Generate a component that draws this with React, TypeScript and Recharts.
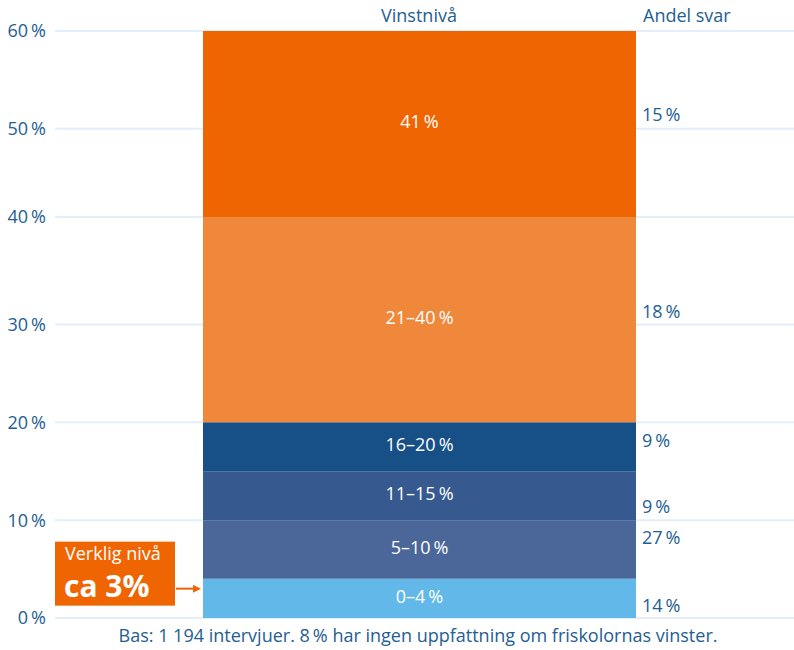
import React from 'react';
import { BarChart, Bar, XAxis, YAxis, CartesianGrid, LabelList, ReferenceLine } from 'recharts';

// profit level bands (bottom to top) and how big each band is on the scale
const bands = ['0–4\u2009%', '5–10\u2009%', '11–15\u2009%', '16–20\u2009%', '21–40\u2009%', '41\u2009%'];
const bandSizes = [4, 6, 5, 5, 21, 19];
// share of answers for each band
const answerShares = ['14\u2009%', '27\u2009%', '9\u2009%', '9\u2009%', '18\u2009%', '15\u2009%'];

const tickValues = [0, 10, 20, 30, 41, 50, 60];
const tickLabels = ['0\u2009%', '10\u2009%', '20\u2009%', '30\u2009%', '40\u2009%', '50\u2009%', '60\u2009%'];

const actualLevel = 3;

const bandColors = ['#62B9E9', '#4B6799', '#36598F', '#174F87', '#F0883B', '#EE6502'];
// where the share label sits inside each band (0 = top, 1 = bottom)
const shareLabelPos = [0.69, 0.29, 0.73, 0.38, 0.46, 0.45];

const BLUE = '#245E92';
const ORANGE = '#EE6502';
const FONT = '"Open Sans", sans-serif';

const row: { [k: string]: number | string } = { name: 'Vinstnivå' };
bands.forEach((b, i) => {
  row['b' + i] = bandSizes[i];
});
const data = [row];

const BandLabel = (idx: number) => (props: any) => {
  const { x, y, width, height } = props;
  return (
    <text
      x={x + width / 2}
      y={y + height / 2 - 2}
      dy="0.36em"
      fill="#fff"
      fontSize={18}
      fontFamily={FONT}
      textAnchor="middle"
    >
      {bands[idx]}
    </text>
  );
};

const ShareLabel = (idx: number) => (props: any) => {
  const { x, y, width, height } = props;
  return (
    <text
      x={x + width + 6}
      y={y + height * shareLabelPos[idx]}
      dy="0.36em"
      fill={BLUE}
      fontSize={18}
      fontFamily={FONT}
      textAnchor="start"
    >
      {answerShares[idx]}
    </text>
  );
};

const ActualLevel = (props: any) => {
  const { x, y } = props.viewBox;
  return (
    <g>
      <rect x={x} y={y - 47} width={120} height={64} fill={ORANGE} />
      <text x={x + 10} y={y - 29} fill="#fff" fontSize={18} fontFamily={FONT}>
        Verklig nivå
      </text>
      <text x={x + 9} y={y + 8} fill="#fff" fontSize={30} fontWeight={700} fontFamily={FONT}>
        ca {actualLevel}%
      </text>
      <line x1={x + 121} y1={y} x2={x + 140} y2={y} stroke={ORANGE} strokeWidth={2} />
      <path d={`M${x + 146},${y} L${x + 138},${y - 4} L${x + 138},${y + 4} Z`} fill={ORANGE} />
    </g>
  );
};

export default function App() {
  return (
    <div style={{ position: 'absolute', left: 0, top: 0, width: 794, height: 650, background: '#fff', fontFamily: FONT }}>
      <BarChart width={794} height={650} data={data} margin={{ top: 31, right: 0, bottom: 32, left: 0 }}>
        <CartesianGrid vertical={false} stroke="#E4EEF9" strokeWidth={2} />
        <XAxis dataKey="name" hide padding={{ left: 0, right: 10 }} />
        <YAxis
          domain={[0, 60]}
          ticks={tickValues}
          interval={0}
          width={55}
          axisLine={false}
          tickLine={false}
          tickMargin={3}
          tickFormatter={(v: number) => tickLabels[tickValues.indexOf(v)]}
          tick={{ fill: BLUE, fontSize: 18, fontFamily: FONT }}
        />
        {bands.map((b, i) => (
          <Bar key={b} dataKey={'b' + i} stackId="a" fill={bandColors[i]} barSize={433} isAnimationActive={false}>
            <LabelList content={BandLabel(i)} />
            <LabelList content={ShareLabel(i)} />
          </Bar>
        ))}
        <ReferenceLine y={actualLevel} stroke="none" label={<ActualLevel />} />
      </BarChart>
      <svg width={794} height={650} style={{ position: 'absolute', left: 0, top: 0, pointerEvents: 'none' }}>
        <text x={419} y={22} textAnchor="middle" fill={BLUE} fontSize={18} fontFamily={FONT}>
          Vinstnivå
        </text>
        <text x={643} y={22} fill={BLUE} fontSize={18} fontFamily={FONT}>
          Andel svar
        </text>
        <text x={418} y={642} textAnchor="middle" fill={BLUE} fontSize={18} fontFamily={FONT}>
          Bas: 1 194 intervjuer. 8{'\u2009'}% har ingen uppfattning om friskolornas vinster.
        </text>
      </svg>
    </div>
  );
}
